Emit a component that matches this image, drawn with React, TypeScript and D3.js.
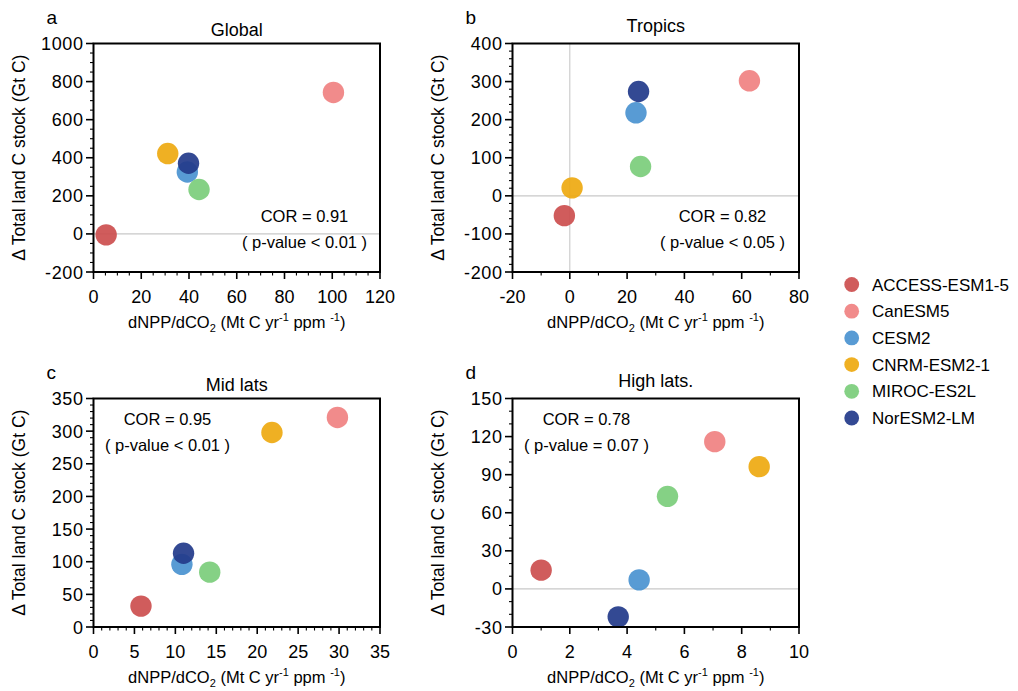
import React from "react";
import * as d3 from "d3";

// Earth system models and their marker colours
const MODELS = ["ACCESS-ESM1-5", "CanESM5", "CESM2", "CNRM-ESM2-1", "MIROC-ES2L", "NorESM2-LM"];
const MODEL_COLORS = ["#cc5050", "#f08282", "#4b93d1", "#eeaa12", "#7ccd7c", "#233b8b"];

// dNPP/dCO2 (x) and change in total land C stock (y), one value per model
const GLOBAL_X = [5.3, 100.5, 39.3, 31.1, 44.2, 39.8];
const GLOBAL_Y = [-5, 743, 325, 422, 233, 371];
const TROPICS_X = [-1.9, 62.7, 23.1, 0.8, 24.7, 24.0];
const TROPICS_Y = [-52, 302, 218, 21, 77, 274];
const MIDLAT_X = [5.8, 29.8, 10.8, 21.8, 14.2, 11.0];
const MIDLAT_Y = [32, 321, 96, 298, 84, 113];
const HIGHLAT_X = [1.0, 7.06, 4.42, 8.61, 5.41, 3.69];
const HIGHLAT_Y = [14.8, 116, 7.1, 96.3, 72.9, -22];

// Axis tick values
const GLOBAL_XTICKS = [0, 20, 40, 60, 80, 100, 120];
const GLOBAL_YTICKS = [-200, 0, 200, 400, 600, 800, 1000];
const TROPICS_XTICKS = [-20, 0, 20, 40, 60, 80];
const TROPICS_YTICKS = [-200, -100, 0, 100, 200, 300, 400];
const MIDLAT_XTICKS = [0, 5, 10, 15, 20, 25, 30, 35];
const MIDLAT_YTICKS = [0, 50, 100, 150, 200, 250, 300, 350];
const HIGHLAT_XTICKS = [0, 2, 4, 6, 8, 10];
const HIGHLAT_YTICKS = [-30, 0, 30, 60, 90, 120, 150];

const FONT = "'Liberation Sans', Arial, Helvetica, sans-serif";

type PanelSpec = {
  letter: string;
  title: string;
  xs: number[];
  ys: number[];
  xTicks: number[];
  yTicks: number[];
  xMinor: number;
  yMinor: number;
  cor: string;
  pval: string;
  left: number;
  top: number;
  titleOffset: number;
  statX: number;
  statY: number;
  zeroX: boolean;
  zeroY: boolean;
};

const W = 286.5;
const H = 228.5;

const PANELS: PanelSpec[] = [
  {
    letter: "a", title: "Global", xs: GLOBAL_X, ys: GLOBAL_Y,
    xTicks: GLOBAL_XTICKS, yTicks: GLOBAL_YTICKS, xMinor: 5, yMinor: 50,
    cor: "COR = 0.91", pval: "( p-value < 0.01 )",
    left: 93.5, top: 43.5, titleOffset: 8, statX: 211, statY: 178, zeroX: false, zeroY: true,
  },
  {
    letter: "b", title: "Tropics", xs: TROPICS_X, ys: TROPICS_Y,
    xTicks: TROPICS_XTICKS, yTicks: TROPICS_YTICKS, xMinor: 10, yMinor: 20,
    cor: "COR = 0.82", pval: "( p-value < 0.05 )",
    left: 512.5, top: 43.5, titleOffset: 12, statX: 210, statY: 178, zeroX: true, zeroY: true,
  },
  {
    letter: "c", title: "Mid lats", xs: MIDLAT_X, ys: MIDLAT_Y,
    xTicks: MIDLAT_XTICKS, yTicks: MIDLAT_YTICKS, xMinor: 1, yMinor: 10,
    cor: "COR = 0.95", pval: "( p-value < 0.01 )",
    left: 93.5, top: 398.5, titleOffset: 8, statX: 74, statY: 26, zeroX: false, zeroY: false,
  },
  {
    letter: "d", title: "High lats.", xs: HIGHLAT_X, ys: HIGHLAT_Y,
    xTicks: HIGHLAT_XTICKS, yTicks: HIGHLAT_YTICKS, xMinor: 1, yMinor: 10,
    cor: "COR = 0.78", pval: "( p-value = 0.07 )",
    left: 512.5, top: 398.5, titleOffset: 12, statX: 74, statY: 26, zeroX: false, zeroY: true,
  },
];

function Panel({ p }: { p: PanelSpec }) {
  const xDomain = d3.extent(p.xTicks) as [number, number];
  const yDomain = d3.extent(p.yTicks) as [number, number];
  const x = d3.scaleLinear().domain(xDomain).range([0, W]);
  const y = d3.scaleLinear().domain(yDomain).range([H, 0]);
  const xMinorTicks = d3.range(xDomain[0], xDomain[1] + 1e-9, p.xMinor).filter(
    (v) => !p.xTicks.some((t) => Math.abs(t - v) < 1e-9)
  );
  const yMinorTicks = d3.range(yDomain[0], yDomain[1] + 1e-9, p.yMinor).filter(
    (v) => !p.yTicks.some((t) => Math.abs(t - v) < 1e-9)
  );

  return (
    <g transform={`translate(${p.left},${p.top})`} fontFamily={FONT}>
      <text x={-47} y={-20} fontSize={19}>{p.letter}</text>
      <text x={W / 2} y={-p.titleOffset} textAnchor="middle" fontSize={18}>{p.title}</text>

      {p.zeroY && (
        <line x1={0} x2={W} y1={y(0)} y2={y(0)} stroke="#c8c8c8" strokeWidth={1.4} />
      )}
      {p.zeroX && (
        <line x1={x(0)} x2={x(0)} y1={0} y2={H} stroke="#c8c8c8" strokeWidth={1.1} />
      )}

      {MODELS.map((m, i) => (
        <circle
          key={m}
          cx={x(p.xs[i])}
          cy={y(p.ys[i])}
          r={10.7}
          fill={MODEL_COLORS[i]}
          fillOpacity={0.93}
        />
      ))}

      <rect x={0} y={0} width={W} height={H} fill="none" stroke="#000" strokeWidth={2} />

      {p.xTicks.map((t) => (
        <g key={`xt${t}`}>
          <line x1={x(t)} x2={x(t)} y1={H} y2={H + 7} stroke="#000" strokeWidth={1.6} />
          <text x={x(t)} y={H + 31} textAnchor="middle" fontSize={18}>{t}</text>
        </g>
      ))}
      {xMinorTicks.map((t) => (
        <line key={`xm${t}`} x1={x(t)} x2={x(t)} y1={H} y2={H + 3.5} stroke="#000" strokeWidth={1.1} />
      ))}
      {p.yTicks.map((t) => (
        <g key={`yt${t}`}>
          <line x1={-7.5} x2={0} y1={y(t)} y2={y(t)} stroke="#000" strokeWidth={1.6} />
          <text x={-10} y={y(t) + 6.5} textAnchor="end" fontSize={18} letterSpacing={0.6}>{t}</text>
        </g>
      ))}
      {yMinorTicks.map((t) => (
        <line key={`ym${t}`} x1={-3.5} x2={0} y1={y(t)} y2={y(t)} stroke="#000" strokeWidth={1.1} />
      ))}

      <text x={p.statX} y={p.statY} textAnchor="middle" fontSize={16.5}>{p.cor}</text>
      <text x={p.statX} y={p.statY + 26} textAnchor="middle" fontSize={16.5}>{p.pval}</text>

      <text x={W / 2} y={H + 56} textAnchor="middle" fontSize={16.5}>
        dNPP/dCO
        <tspan fontSize={11} dy={4}>2</tspan>
        <tspan dy={-4}> (Mt C yr</tspan>
        <tspan fontSize={11} dy={-7}>-1</tspan>
        <tspan dy={7}> ppm </tspan>
        <tspan fontSize={11} dy={-7}>-1</tspan>
        <tspan dy={7}>)</tspan>
      </text>

      <text
        transform={`translate(${-69},${H / 2}) rotate(-90)`}
        textAnchor="middle"
        fontSize={17.5}
      >
        Δ Total land C stock (Gt C)
      </text>
    </g>
  );
}

function Legend() {
  const rowY = d3.scaleLinear().domain([0, MODELS.length - 1]).range([284.5, 418]);
  return (
    <g fontFamily={FONT}>
      {MODELS.map((m, i) => (
        <g key={m}>
          <circle cx={851.7} cy={rowY(i)} r={7.4} fill={MODEL_COLORS[i]} fillOpacity={0.93} />
          <text x={872} y={rowY(i) + 6} fontSize={17}>{m}</text>
        </g>
      ))}
    </g>
  );
}

export default function App() {
  return (
    <svg
      width={1018}
      height={691}
      style={{ position: "absolute", left: 0, top: 0, background: "#fff" }}
    >
      <rect width={1018} height={691} fill="#fff" />
      {PANELS.map((p) => (
        <Panel key={p.letter} p={p} />
      ))}
      <Legend />
    </svg>
  );
}
